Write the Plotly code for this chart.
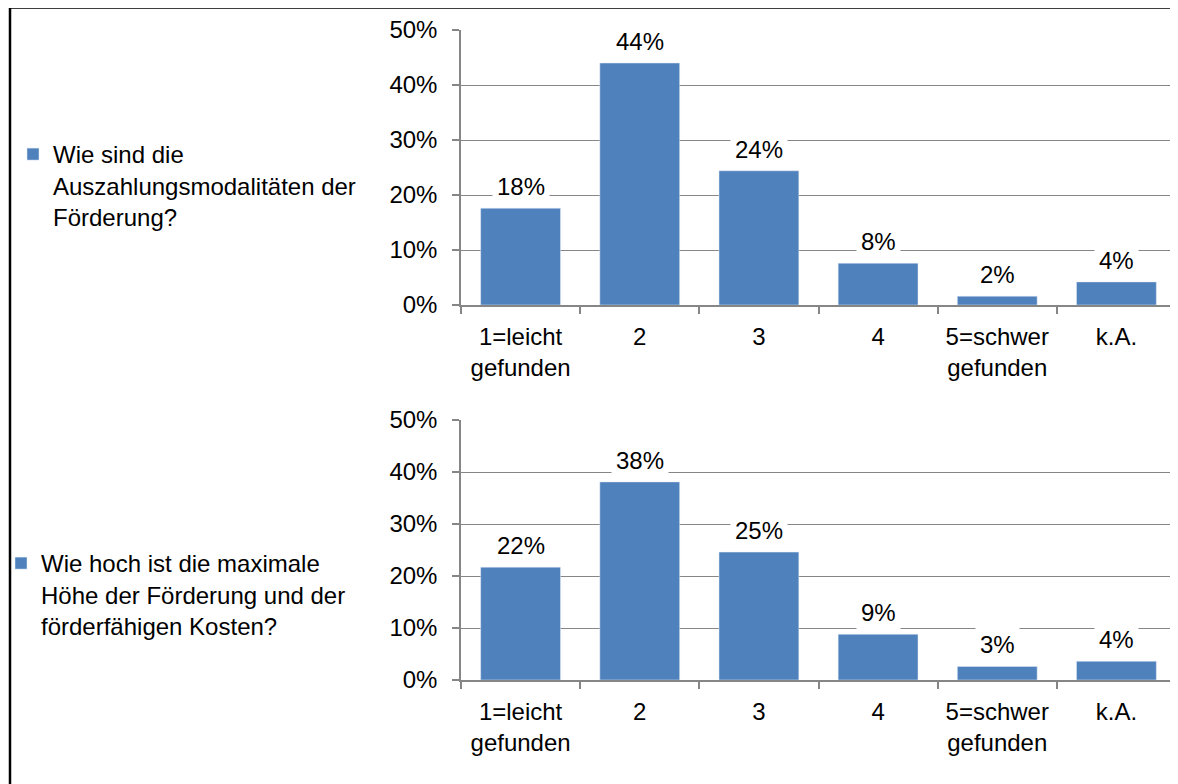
import plotly.graph_objects as go

categories = ["1=leicht<br>gefunden", "2", "3", "4", "5=schwer<br>gefunden", "k.A."]
series1_name = "Wie sind die<br>Auszahlungsmodalitäten der<br>Förderung?"
series1_values = [17.6, 44.0, 24.4, 7.6, 1.6, 4.2]
series2_name = "Wie hoch ist die maximale<br>Höhe der Förderung und der<br>förderfähigen Kosten?"
series2_values = [21.7, 38.1, 24.6, 8.8, 2.6, 3.6]
y_ticks = [0, 10, 20, 30, 40, 50]
y_ticktext = [f"{v}%" for v in y_ticks]

BAR = "#4F81BD"
GRID = "#868686"
FONT = "Liberation Sans, Arial, sans-serif"
FS = 24
W, H = 1178, 784
OFF = 8  # page body margin

fig = go.Figure()
fig.add_trace(go.Bar(x=categories, y=series1_values, name=series1_name,
                     marker=dict(color=BAR), xaxis="x", yaxis="y", legend="legend"))
fig.add_trace(go.Bar(x=categories, y=series2_values, name=series2_name,
                     marker=dict(color=BAR), xaxis="x2", yaxis="y2", legend="legend2"))

def px_x(p):
    return (p - OFF) / W

def px_y(p):
    return 1 - (p - OFF) / H

xdom = [px_x(461), px_x(1176)]
ax_common_x = dict(type="category", categoryorder="array", categoryarray=categories,
                   range=[-0.5, 5.5], showline=True, linecolor=GRID, linewidth=1.5,
                   ticks="outside", tickson="boundaries", ticklen=7, tickcolor=GRID, tickwidth=1.5,
                   showgrid=False, tickfont=dict(size=FS, color="black", family=FONT),
                   ticklabelstandoff=9, domain=xdom, fixedrange=True, automargin=False)
ax_common_y = dict(range=[0, 50], tickvals=y_ticks, ticktext=y_ticktext, showline=True, linecolor=GRID,
                   linewidth=1.5, ticks="outside", ticklen=7, tickcolor=GRID, tickwidth=1.5,
                   showgrid=True, gridcolor=GRID, gridwidth=1, zeroline=False,
                   tickfont=dict(size=FS, color="black", family=FONT), ticklabelstandoff=10,
                   automargin=False, fixedrange=True)

fig.update_layout(
    width=W, height=H,
    margin=dict(l=0, r=0, t=0, b=0, autoexpand=False),
    paper_bgcolor="white", plot_bgcolor="white",
    font=dict(family=FONT, size=FS, color="black"),
    bargap=0.33,
    xaxis=dict(**ax_common_x, anchor="y"),
    yaxis=dict(**ax_common_y, domain=[px_y(305), px_y(30)], anchor="x"),
    xaxis2=dict(**ax_common_x, anchor="y2"),
    yaxis2=dict(**ax_common_y, domain=[px_y(680), px_y(420)], anchor="x2"),
    legend=dict(x=px_x(13), y=px_y(132), xanchor="left", yanchor="top", valign="top",
                bgcolor="rgba(0,0,0,0)", font=dict(size=FS, family=FONT, color="black"),
                itemwidth=30, tracegroupgap=0),
    legend2=dict(x=px_x(1), y=px_y(541), xanchor="left", yanchor="top", valign="top",
                 bgcolor="rgba(0,0,0,0)", font=dict(size=FS, family=FONT, color="black"),
                 itemwidth=30, tracegroupgap=0),
    showlegend=True,
)

annotations = []
for xa, ya, vals in (("x", "y", series1_values), ("x2", "y2", series2_values)):
    for i, v in enumerate(vals):
        annotations.append(dict(x=i, y=v, xref=xa, yref=ya, text=f"{round(v)}%",
                                showarrow=False, yanchor="bottom", yshift=3,
                                bgcolor="white", borderpad=4,
                                font=dict(size=FS, family=FONT, color="black")))
fig.update_layout(annotations=annotations)

fig.add_shape(type="rect", xref="paper", yref="paper",
              x0=px_x(10), x1=1.05, y0=-0.05, y1=px_y(7.5),
              line=dict(color="black", width=2.5), fillcolor="rgba(0,0,0,0)", layer="above")

fig.write_html("out.html")
